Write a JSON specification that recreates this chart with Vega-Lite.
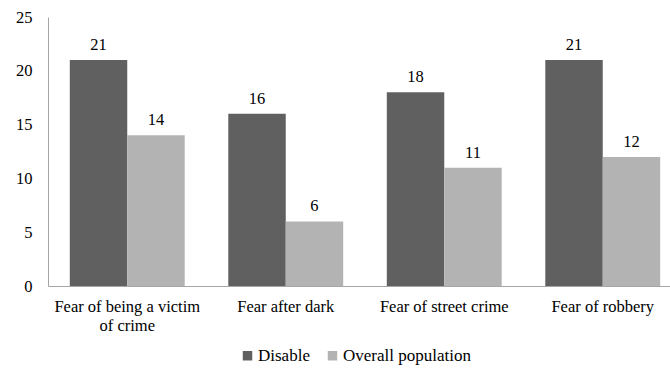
{
  "$schema": "https://vega.github.io/schema/vega-lite/v6.json",
  "width": 622,
  "height": 269,
  "autosize": {"type": "none"},
  "padding": {"left": 48, "top": 17, "right": 0, "bottom": 85},
  "background": "white",
  "config": {
    "view": {"stroke": null},
    "font": "Liberation Serif",
    "axis": {"labelFont": "Liberation Serif", "labelColor": "#000000", "labelFontSize": 16.5, "grid": false, "ticks": false, "domainColor": "#a6a6a6", "domainWidth": 1},
    "legend": {"labelFont": "Liberation Serif", "labelFontSize": 17, "labelColor": "#000000"}
  },
  "data": {
    "values": [
      {"category": "Fear of being a victim of crime", "group": "Disable", "value": 21},
      {"category": "Fear of being a victim of crime", "group": "Overall population", "value": 14},
      {"category": "Fear after dark", "group": "Disable", "value": 16},
      {"category": "Fear after dark", "group": "Overall population", "value": 6},
      {"category": "Fear of street crime", "group": "Disable", "value": 18},
      {"category": "Fear of street crime", "group": "Overall population", "value": 11},
      {"category": "Fear of robbery", "group": "Disable", "value": 21},
      {"category": "Fear of robbery", "group": "Overall population", "value": 12}
    ]
  },
  "encoding": {
    "x": {
      "field": "category",
      "type": "nominal",
      "sort": null,
      "scale": {"range": [0, 634], "paddingInner": 0.275, "paddingOuter": 0.1375},
      "axis": {
        "title": null,
        "labelAngle": 0,
        "labelPadding": 12,
        "labelLineHeight": 19,
        "labelExpr": "datum.label == 'Fear of being a victim of crime' ? ['Fear of being a victim', 'of crime'] : datum.label"
      }
    },
    "xOffset": {"field": "group", "type": "nominal", "scale": {"paddingInner": 0, "paddingOuter": 0}},
    "y": {
      "field": "value",
      "type": "quantitative",
      "scale": {"domain": [0, 25]},
      "axis": {"title": null, "values": [0, 5, 10, 15, 20, 25], "labelPadding": 16}
    }
  },
  "layer": [
    {
      "mark": {"type": "bar"},
      "encoding": {
        "color": {
          "field": "group",
          "type": "nominal",
          "scale": {"domain": ["Disable", "Overall population"], "range": ["#606060", "#b3b3b3"]},
          "legend": {
            "title": null,
            "orient": "none",
            "direction": "horizontal",
            "legendX": 191,
            "legendY": 330,
            "symbolType": "square",
            "symbolSize": 90,
            "symbolStrokeWidth": 0,
            "labelFont": "Liberation Serif",
            "labelFontSize": 17,
            "labelOffset": 2,
            "columnPadding": 14
          }
        }
      }
    },
    {
      "mark": {"type": "text", "dy": -15, "fontSize": 16.5, "color": "#000000", "font": "Liberation Serif"},
      "encoding": {"text": {"field": "value", "type": "quantitative"}}
    }
  ]
}
